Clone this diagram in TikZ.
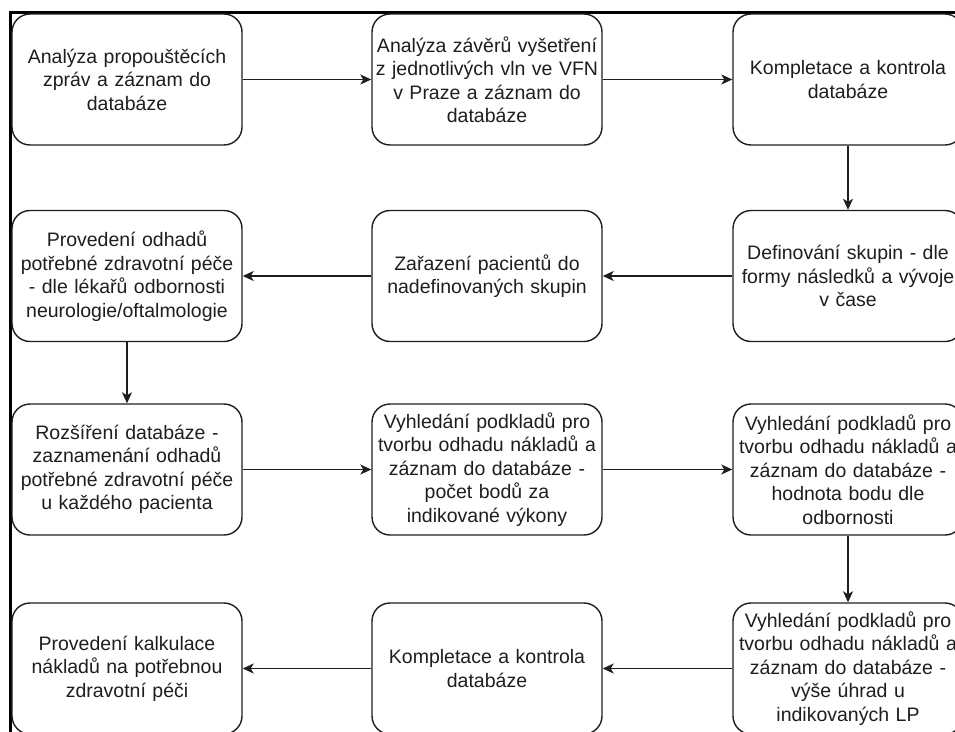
\documentclass[tikz,border=0pt]{standalone}
\usepackage{fontspec}
\setmainfont{Liberation Sans}
\usetikzlibrary{arrows.meta}
\definecolor{ink}{RGB}{30,30,30}
\tikzset{
  x=1pt, y=-1pt,
  stepbox/.style={draw=ink, line width=1.4pt, rounded corners=18pt, fill=white,
    minimum width=230pt, minimum height=131pt, inner sep=2pt,
    text width=226pt, align=center, text=ink,
    font=\fontsize{19.5}{23.5}\selectfont},
  flow/.style={draw=ink, line width=1.4pt, -{Stealth[length=11pt,width=10pt,inset=3pt]}},
}
\begin{document}
\begin{tikzpicture}
\useasboundingbox (0,0) rectangle (955,731);
\clip (0,0) rectangle (955,731);
% outer frame (left and top edges)
\draw[line width=3pt, black] (10,735) -- (10,12) -- (960,12);

% row 1
\node[stepbox] (a1) at (127,79.5) {Analýza propouštěcích\\zpráv a záznam do\\databáze};
\node[stepbox] (a2) at (487,79.5) {Analýza závěrů vyšetření\\z jednotlivých vln ve VFN\\v Praze a záznam do\\databáze};
\node[stepbox] (a3) at (848,79.5) {Kompletace a kontrola\\databáze};
% row 2
\node[stepbox] (b3) at (848,276) {Definování skupin - dle\\formy následků a vývoje\\v čase};
\node[stepbox] (b2) at (487,276) {Zařazení pacientů do\\nadefinovaných skupin};
\node[stepbox] (b1) at (127,276) {Provedení odhadů\\potřebné zdravotní péče\\- dle lékařů odbornosti\\neurologie/oftalmologie};
% row 3
\node[stepbox] (c1) at (127,469.5) {Rozšíření databáze -\\zaznamenání odhadů\\potřebné zdravotní péče\\u každého pacienta};
\node[stepbox] (c2) at (487,469.5) {Vyhledání podkladů pro\\tvorbu odhadu nákladů a\\záznam do databáze -\\počet bodů za\\indikované výkony};
\node[stepbox] (c3) at (848,469.5) {Vyhledání podkladů pro\\tvorbu odhadu nákladů a\\záznam do databáze -\\hodnota bodu dle\\odbornosti};
% row 4
\node[stepbox] (d3) at (848,668.5) {Vyhledání podkladů pro\\tvorbu odhadu nákladů a\\záznam do databáze -\\výše úhrad u\\indikovaných LP};
\node[stepbox] (d2) at (487,668.5) {Kompletace a kontrola\\databáze};
\node[stepbox] (d1) at (127,668.5) {Provedení kalkulace\\nákladů na potřebnou\\zdravotní péči};

% connectors
\draw[flow] (a1) -- (a2);
\draw[flow] (a2) -- (a3);
\draw[flow] (a3) -- (b3);
\draw[flow] (b3) -- (b2);
\draw[flow] (b2) -- (b1);
\draw[flow] (b1) -- (c1);
\draw[flow] (c1) -- (c2);
\draw[flow] (c2) -- (c3);
\draw[flow] (c3) -- (d3);
\draw[flow] (d3) -- (d2);
\draw[flow] (d2) -- (d1);
\end{tikzpicture}
\end{document}
